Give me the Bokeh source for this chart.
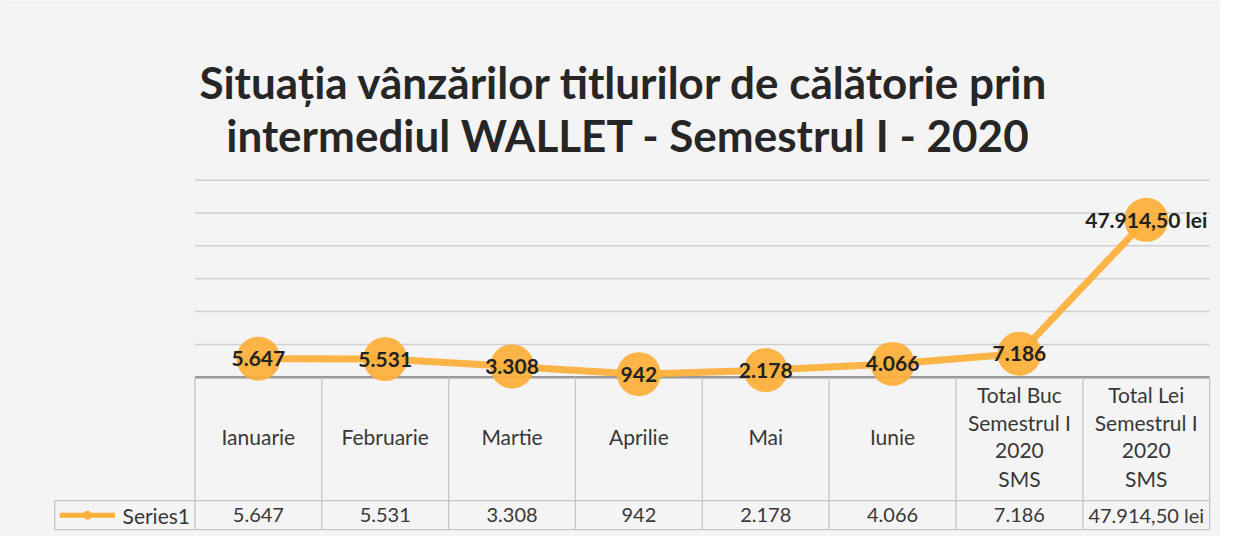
from bokeh.plotting import figure
from bokeh.models import Range1d, ColumnDataSource
from bokeh.core.properties import value
from bokeh.embed import file_html
from bokeh.resources import INLINE

# ---- data ----
categories = ["Ianuarie", "Februarie", "Martie", "Aprilie", "Mai", "Iunie",
              "Total Buc\nSemestrul I\n2020\nSMS", "Total Lei\nSemestrul I\n2020\nSMS"]
values = [5647, 5531, 3308, 942, 2178, 4066, 7186, 47914.50]
point_labels = ["5.647", "5.531", "3.308", "942", "2.178", "4.066", "7.186", "47.914,50 lei"]
table_labels = ["5.647", "5.531", "3.308", "942", "2.178", "4.066", "7.186", "47.914,50 lei"]
series_name = "Series1"
grid_values = [10000, 20000, 30000, 40000, 50000, 60000]
title_lines = ["Situația vânzărilor titlurilor de călătorie prin",
               "intermediul WALLET - Semestrul I - 2020"]

# ---- layout (reference-pixel space 1236 x 552, scaled onto the canvas) ----
W, H = 1220, 536
REF_W, REF_H = 1236, 552
COL_W = 128.5          # ref px per category
LEFT_PX = 197          # ref x of left edge of first category column
ZERO_PX = 388          # ref y of the value 0
PX_PER_10K = 33.83

x_start = 0.5 - LEFT_PX / COL_W
x_end = x_start + REF_W / COL_W
y_start = -(REF_H - ZERO_PX) / PX_PER_10K * 10000
y_end = ZERO_PX / PX_PER_10K * 10000

def px2x(px):
    return x_start + px / COL_W

ORANGE = "#FBB03B"
FONT = "Lato"
TXT = "#383838"

p = figure(width=W, height=H, output_backend="svg", toolbar_location=None,
           x_range=Range1d(x_start, x_end), y_range=Range1d(y_start, y_end),
           x_axis_location=None, y_axis_location=None, min_border=0,
           outline_line_color=None, background_fill_color="#f4f4f4",
           border_fill_color="#f4f4f4")
p.grid.visible = False
p.extra_y_ranges = {"tbl": Range1d(start=REF_H, end=0)}

n = len(categories)
xs = list(range(1, n + 1))
x_left = 0.5
x_right = n + 0.5

# gridlines
p.segment(x0=[x_left] * len(grid_values), x1=[x_right] * len(grid_values),
          y0=grid_values, y1=grid_values, line_color="#cfcfcf", line_width=1.5)

# table lines
TOP, HDR_BOT, BOT = 388, 515, 545
LEG_L = 55
p.segment(x0=[x_left], x1=[x_right], y0=[TOP], y1=[TOP], y_range_name="tbl",
          line_color="#9a9a9a", line_width=2.5)
vx = [x_left + i for i in range(n + 1)]
p.segment(x0=vx, x1=vx, y0=[TOP] * len(vx), y1=[BOT] * len(vx), y_range_name="tbl",
          line_color="#c4c4c4", line_width=1.3)
p.segment(x0=[px2x(LEG_L)] * 2, x1=[x_right] * 2, y0=[HDR_BOT, BOT], y1=[HDR_BOT, BOT],
          y_range_name="tbl", line_color="#c4c4c4", line_width=1.3)
p.segment(x0=[px2x(LEG_L)], x1=[px2x(LEG_L)], y0=[HDR_BOT], y1=[BOT], y_range_name="tbl",
          line_color="#c4c4c4", line_width=1.3)

# line + markers
src = ColumnDataSource(dict(x=xs, y=values, lab=point_labels))
p.line("x", "y", source=src, line_color=ORANGE, line_width=7, line_alpha=0.95)
p.scatter("x", "y", source=src, size=44, fill_color=ORANGE, line_color=None, fill_alpha=0.95)
p.text("x", "y", text="lab", source=src, text_align="center", text_baseline="middle",
       text_font=value(FONT), text_font_style="bold", text_font_size="21px",
       text_color="#222222")

# header labels (split multi-line)
hx, hy, ht = [], [], []
for i, c in enumerate(categories):
    lines = c.split("\n")
    m = len(lines)
    for j, ln in enumerate(lines):
        hx.append(xs[i])
        hy.append(449 + (j - (m - 1) / 2) * 29)
        ht.append(ln)
p.text(x=hx, y=hy, text=ht, y_range_name="tbl", text_align="center", text_baseline="middle",
       text_font=value(FONT), text_font_size="21px", text_color=TXT)

# value row
p.text(x=xs, y=[530] * n, text=table_labels, y_range_name="tbl", text_align="center",
       text_baseline="middle", text_font=value(FONT), text_font_size="20px", text_color=TXT)

# legend key
p.line(x=[px2x(60), px2x(116)], y=[530, 530], y_range_name="tbl", line_color=ORANGE, line_width=5)
p.scatter(x=[px2x(88)], y=[530], y_range_name="tbl", size=9, marker="circle",
          fill_color=ORANGE, line_color=None)
p.text(x=[px2x(192)], y=[530], text=[series_name], y_range_name="tbl", text_align="right",
       text_baseline="middle", text_font=value(FONT), text_font_size="21px", text_color=TXT)

# title
p.text(x=[px2x(632), px2x(636)], y=[84, 139], text=title_lines, y_range_name="tbl",
       text_align="center", text_baseline="alphabetic", text_font=value(FONT),
       text_font_style="bold", text_font_size="44px", text_color="#262626")

open("out.html", "w").write(file_html(p, INLINE))
